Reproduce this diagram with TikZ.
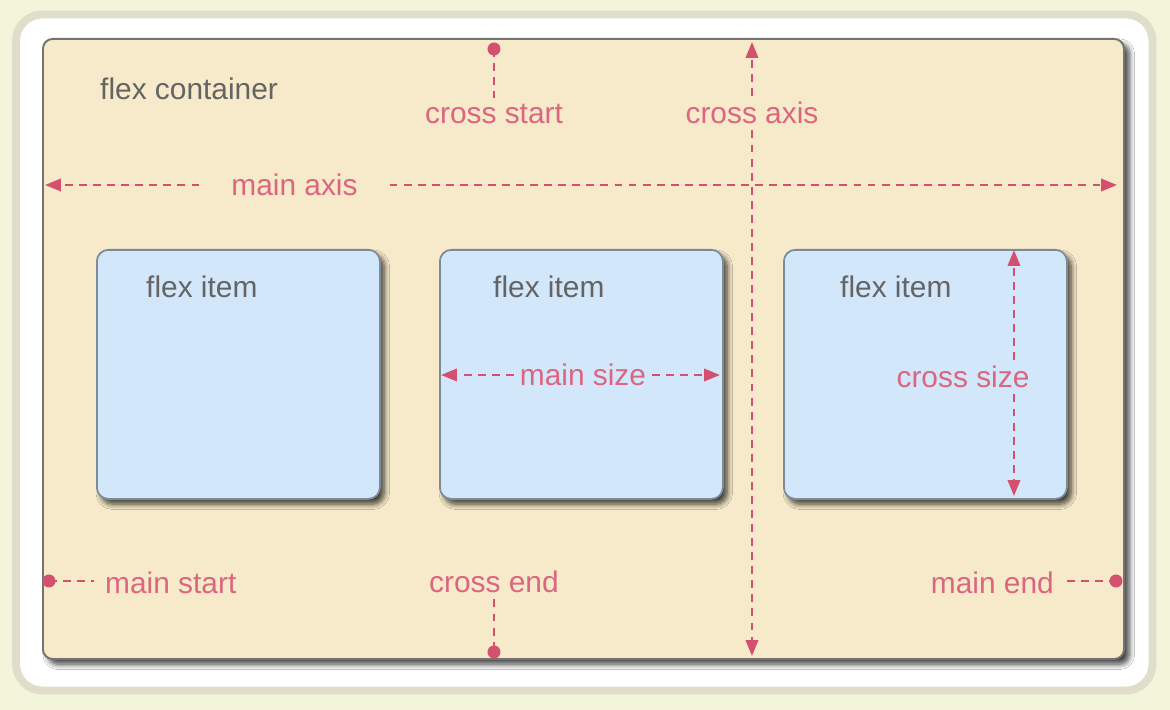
\documentclass[tikz,border=0pt]{standalone}
\usepackage{fontspec}
\setmainfont{Liberation Sans}
\usetikzlibrary{arrows.meta, positioning, shadows.blur}
\definecolor{pagebg}{RGB}{243,245,218}
\definecolor{framegray}{RGB}{224,222,203}
\definecolor{boxfill}{RGB}{247,234,202}
\definecolor{itemfill}{RGB}{211,231,251}
\definecolor{itemline}{RGB}{125,138,152}
\definecolor{guidepink}{RGB}{212,80,110}
\definecolor{notepink}{RGB}{220,102,128}
\definecolor{labelgray}{RGB}{100,100,100}

\begin{document}
\begin{tikzpicture}[scale=0.2,
  every node/.style={font=\fontsize{17}{20}\selectfont},
  note/.style={text=notepink},
  plain/.style={text=labelgray},
  guide/.style={draw=guidepink, line width=1.4pt, dash pattern=on 4.5pt off 3.5pt},
  tip/.style={-{Triangle[length=9pt,width=7pt]}},
  pin/.style={fill=guidepink},
  container/.style={draw=black!55, line width=1.1pt, fill=boxfill, rounded corners=5.5pt,
    minimum width=21.62cm, minimum height=12.4cm, anchor=north west,
    blur shadow={shadow xshift=3pt, shadow yshift=-3pt, shadow blur radius=3pt,
      shadow blur steps=8, shadow opacity=75}},
  flexbox/.style={draw=itemline, line width=1pt, fill=itemfill, rounded corners=6.5pt,
    minimum width=5.66cm, minimum height=4.98cm, anchor=north west,
    blur shadow={shadow xshift=2.5pt, shadow yshift=-3pt, shadow blur radius=3pt,
      shadow blur steps=8, shadow opacity=75}}]
\useasboundingbox (0,0) rectangle (117,-71);
\fill [pagebg] (0,0) rectangle (117,-71);
\draw [framegray, line width=4.5pt, fill=white, rounded corners=15pt] (1.6,-1.45) rectangle (115.25,-69.05);

% container and items
\node [container] (box) at (4.2,-3.8) {};
\node [plain, anchor=base west] (boxlbl) at (9.4,-10.0) {flex container};
\foreach \i/\x/\dx in {1/9.6/4.4, 2/43.9/4.8, 3/78.3/5.1} {
  \node [flexbox] (item\i) at (\x,-24.9) {};
  \path (item\i.north west) ++(\dx,-4.9) node [plain, anchor=base west] (item\i lbl) {flex item};
}

% main axis
\coordinate (ma-l) at (4.5,-18.5);
\coordinate (ma-r) at (111.7,-18.5);
\node [note, anchor=base, inner xsep=18pt] (malbl) at (29.45,-19.6) {main axis};
\draw [guide, tip] (ma-l -| malbl.west) -- (ma-l);
\draw [guide, tip] (ma-r -| malbl.east) -- (ma-r);

% cross axis
\coordinate (ca-top) at (75.2,-4.2);
\coordinate (ca-bot) at (75.2,-65.6);
\node [note, anchor=base] (calbl) at (75.2,-12.4) {cross axis};
\draw [guide, tip] (ca-top |- calbl.north) -- (ca-top);
\draw [guide, tip] (ca-top |- calbl.south) -- (ca-bot);

% cross start / cross end
\coordinate (csd) at (49.4,-4.9);
\coordinate (ced) at (49.4,-65.2);
\node [note, anchor=base] (cslbl) at (49.4,-12.4) {cross start};
\node [note, anchor=base] (celbl) at (49.4,-59.3) {cross end};
\draw [guide] (csd) -- (csd |- cslbl.north);
\draw [guide] (ced |- celbl.south) -- (ced);
\fill [pin] (csd) circle (0.65);
\fill [pin] (ced) circle (0.65);

% main start / main end
\coordinate (msd) at (4.9,-58.1);
\coordinate (med) at (111.6,-58.1);
\node [note, anchor=base west] (mslbl) at (9.9,-59.4) {main start};
\node [note, anchor=base east] (melbl) at (106.0,-59.4) {main end};
\draw [guide, shorten >=3pt] (msd) -- (msd -| mslbl.west);
\draw [guide, shorten <=4pt] (med -| melbl.east) -- (med);
\fill [pin] (msd) circle (0.65);
\fill [pin] (med) circle (0.65);

% main size
\coordinate (ms-l) at (44.1,-37.5);
\coordinate (ms-r) at (72.0,-37.5);
\node [note, anchor=base] (mzlbl) at (58.3,-38.6) {main size};
\draw [guide, tip] (ms-l -| mzlbl.west) -- (ms-l);
\draw [guide, tip] (ms-r -| mzlbl.east) -- (ms-r);

% cross size
\coordinate (cz-top) at (101.4,-25.0);
\coordinate (cz-bot) at (101.4,-49.6);
\node [note, anchor=base] (czlbl) at (96.3,-38.8) {cross size};
\draw [guide, tip] (cz-top |- czlbl.north) -- (cz-top);
\draw [guide, tip] (cz-top |- czlbl.south) -- (cz-bot);
\end{tikzpicture}
\end{document}
